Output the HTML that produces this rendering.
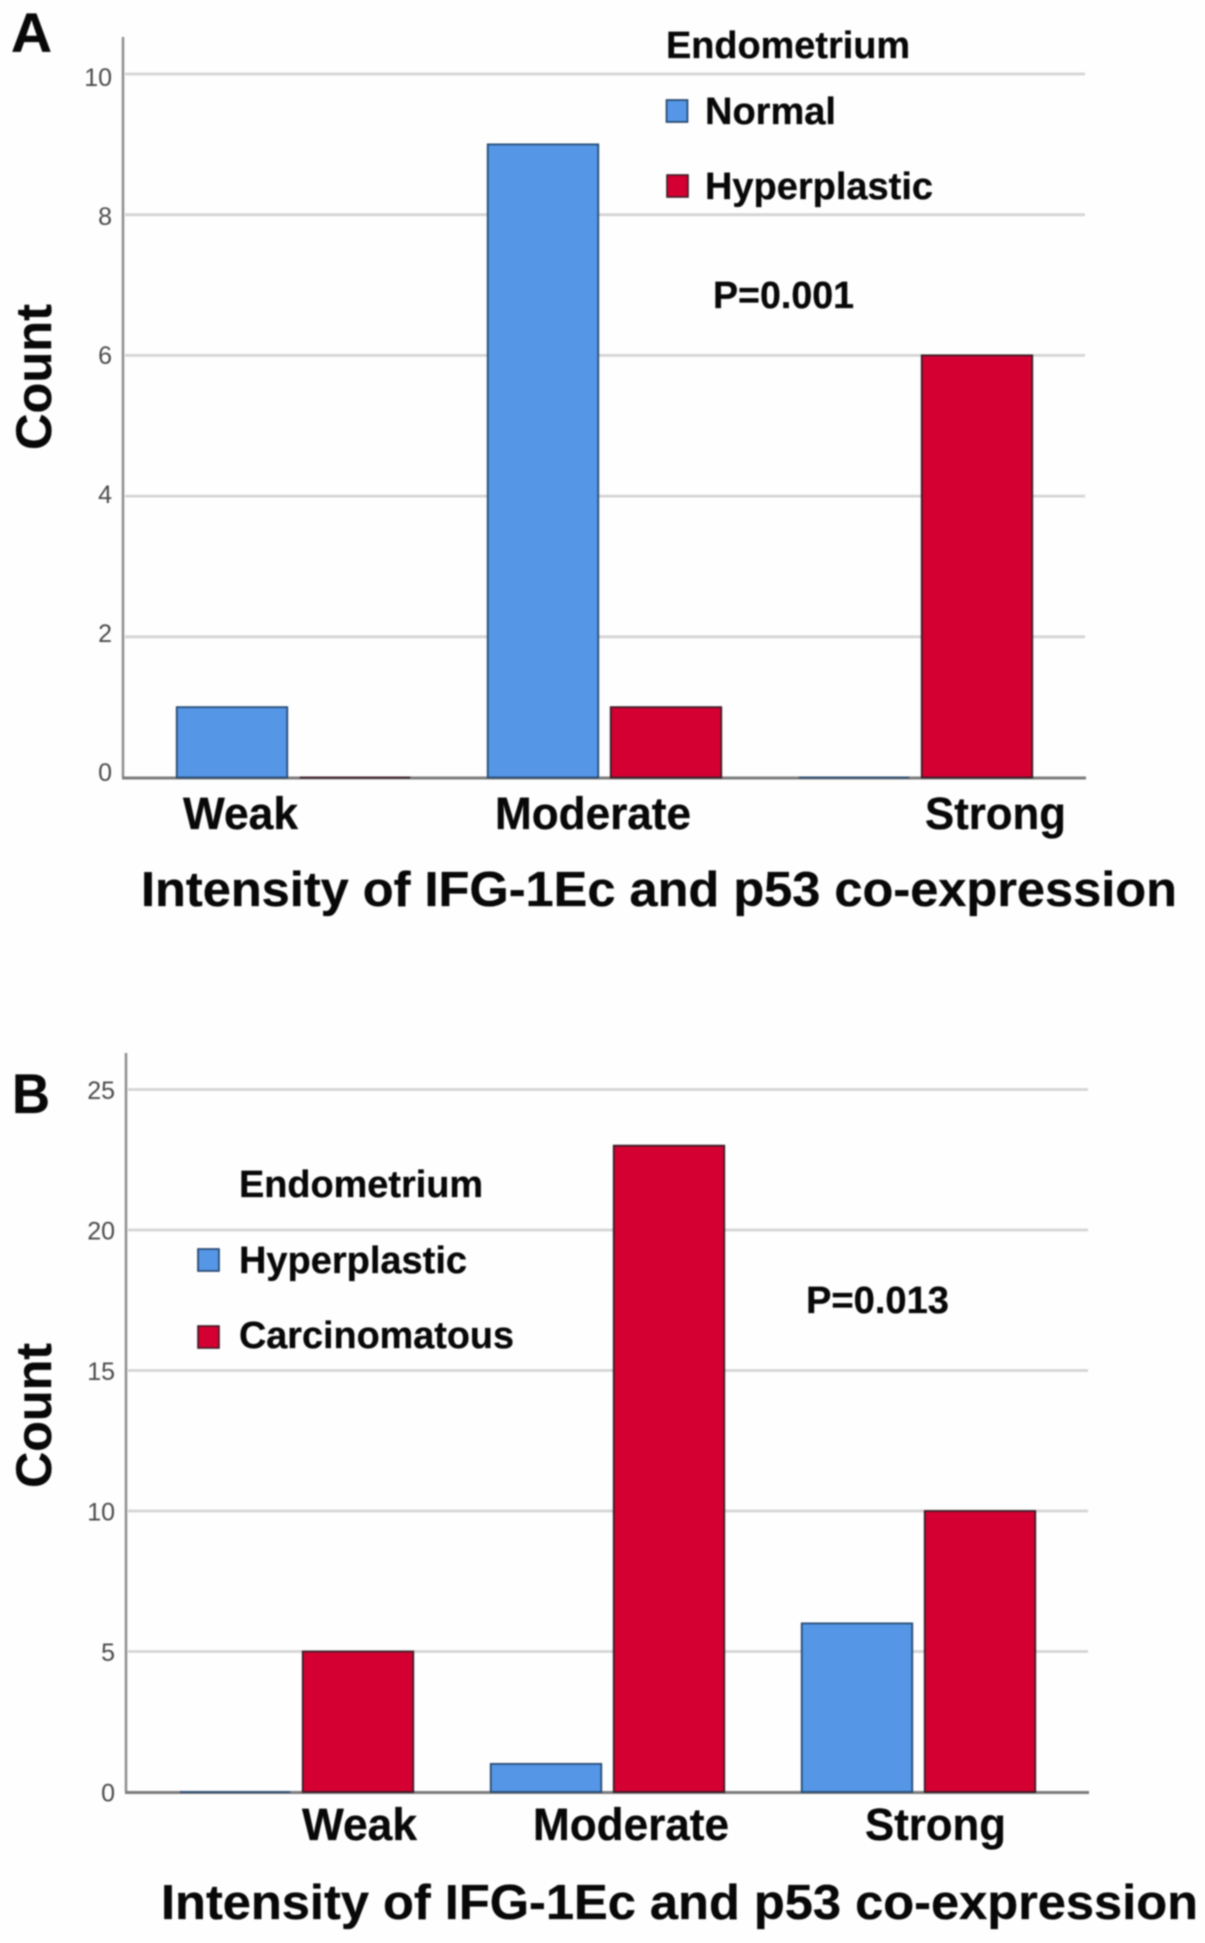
<!DOCTYPE html>
<html lang="en">
<head>
<meta charset="utf-8">
<title>Intensity of IFG-1Ec and p53 co-expression</title>
<style>
html,body{margin:0;padding:0;background:#fff;}
body{width:1205px;height:1943px;overflow:hidden;}
svg{display:block;filter:blur(0.7px);}
text{font-family:"Liberation Sans",Arial,sans-serif;}
.b{font-weight:700;fill:#080808;stroke:#080808;stroke-width:0.3px;}
.tick{font-size:25px;fill:#4a4a4a;text-anchor:end;}
</style>
</head>
<body>
<svg id="figure" width="1205" height="1943" viewBox="0 0 1205 1943" xmlns="http://www.w3.org/2000/svg">
  <rect x="0" y="0" width="1205" height="1943" fill="#fefefe"/>

  <g id="chart-a"></g>
  <g id="chart-b"></g>

  <text class="b" x="11" y="52" font-size="56" textLength="41" lengthAdjust="spacingAndGlyphs">A</text>
  <text class="b" transform="translate(51,450) rotate(-90)" font-size="50" textLength="146" lengthAdjust="spacingAndGlyphs">Count</text>
  <text class="b" x="141" y="906" font-size="49" textLength="1036" lengthAdjust="spacingAndGlyphs">Intensity of IFG-1Ec and p53 co-expression</text>
  <text class="b" x="666" y="58" font-size="38" textLength="244" lengthAdjust="spacingAndGlyphs">Endometrium</text>
  <rect x="666.5" y="100" width="21" height="22" fill="#5596e6" stroke="#1f3f66" stroke-width="1.6"/>
  <text class="b" x="705" y="124" font-size="38" textLength="131" lengthAdjust="spacingAndGlyphs">Normal</text>
  <rect x="667" y="175" width="21" height="22" fill="#d50032" stroke="#3a1a24" stroke-width="1.6"/>
  <text class="b" x="705" y="199" font-size="38" textLength="228" lengthAdjust="spacingAndGlyphs">Hyperplastic</text>
  <text class="b" x="713" y="308" font-size="38" textLength="141" lengthAdjust="spacingAndGlyphs">P=0.001</text>

  <text class="b" x="12" y="1113" font-size="56" textLength="38" lengthAdjust="spacingAndGlyphs">B</text>
  <text class="b" transform="translate(51,1488) rotate(-90)" font-size="50" textLength="145" lengthAdjust="spacingAndGlyphs">Count</text>
  <text class="b" x="161" y="1919" font-size="49" textLength="1037" lengthAdjust="spacingAndGlyphs">Intensity of IFG-1Ec and p53 co-expression</text>
  <text class="b" x="239" y="1197" font-size="38" textLength="244" lengthAdjust="spacingAndGlyphs">Endometrium</text>
  <rect x="198" y="1249" width="21" height="22" fill="#5596e6" stroke="#1f3f66" stroke-width="1.6"/>
  <text class="b" x="239" y="1273" font-size="38" textLength="228" lengthAdjust="spacingAndGlyphs">Hyperplastic</text>
  <rect x="198" y="1326" width="21" height="22" fill="#d50032" stroke="#3a1a24" stroke-width="1.6"/>
  <text class="b" x="239" y="1348" font-size="38" textLength="275" lengthAdjust="spacingAndGlyphs">Carcinomatous</text>
  <text class="b" x="806" y="1313" font-size="38" textLength="143" lengthAdjust="spacingAndGlyphs">P=0.013</text>
</svg>

<script>
// Chart A data
var categoriesA = ['Weak', 'Moderate', 'Strong'];
var normalValuesA = [1, 9, 0];
var hyperplasticValuesA = [0, 1, 6];
var tickValuesA = [0, 2, 4, 6, 8, 10];

// Chart B data
var categoriesB = ['Weak', 'Moderate', 'Strong'];
var hyperplasticValuesB = [0, 1, 6];
var carcinomatousValuesB = [5, 23, 10];
var tickValuesB = [0, 5, 10, 15, 20, 25];

var NS = 'http://www.w3.org/2000/svg';

function make(parent, tag, attrs) {
  var el = document.createElementNS(NS, tag);
  for (var k in attrs) { el.setAttribute(k, attrs[k]); }
  parent.appendChild(el);
  return el;
}

function drawChart(root, cfg) {
  var maxTick = cfg.ticks[cfg.ticks.length - 1];
  var unit = (cfg.y0 - cfg.yMaxTick) / maxTick;
  function yScale(v) { return cfg.y0 - v * unit; }
  function xBand(i) { return cfg.firstCenter + i * cfg.pitch; }

  // Gridlines and tick labels
  cfg.ticks.forEach(function (t) {
    if (t !== 0) {
      var grid = make(root, 'line', { x1: cfg.axisX + 2, x2: cfg.axisRight, y1: yScale(t), y2: yScale(t), stroke: '#d4d4d4', 'stroke-width': 2.8 });
      
      
    }
    var label = make(root, 'text', { 'class': 'tick', x: cfg.tickRight, y: yScale(t) + cfg.tickOffset + t * cfg.tickSlope });
    label.textContent = String(t);
    
    
  });

  // Y axis
  var yAxis = make(root, 'line', { x1: cfg.axisX, x2: cfg.axisX, y1: cfg.axisTop, y2: cfg.y0, stroke: '#8a8a8a', 'stroke-width': 2.4 });
  
  

  // X axis
  var xAxis = make(root, 'line', { x1: cfg.axisX - 1, x2: cfg.axisRight + 1, y1: cfg.y0 + 0.5, y2: cfg.y0 + 0.5, stroke: '#7c7c7c', 'stroke-width': 3 });
  
  

  // Bars
  cfg.series.forEach(function (s, si) {
    s.values.forEach(function (v, i) {
      var left = xBand(i) + (si === 0 ? -cfg.barOffset : cfg.barOffset) - cfg.barWidth / 2;
      var top = yScale(v);
      var bar = make(root, 'path', {
        d: 'M' + left + ' ' + cfg.y0 + 'V' + top + 'H' + (left + cfg.barWidth) + 'V' + cfg.y0 + 'Z',
        fill: s.fill, stroke: s.stroke, 'stroke-width': 1.8
      });
      
      
    });
  });

  // Category labels
  cfg.categories.forEach(function (c, i) {
    var label = make(root, 'text', {
      'class': 'b', x: cfg.labelLeft[i], y: cfg.labelBaseline,
      'font-size': 45, textLength: cfg.labelWidth[i], lengthAdjust: 'spacingAndGlyphs'
    });
    label.textContent = c;
    
    
  });
}

drawChart(document.getElementById('chart-a'), {
  categories: categoriesA,
  ticks: tickValuesA,
  series: [
    { name: 'normal', values: normalValuesA, fill: '#5596e6', stroke: '#254a72' },
    { name: 'hyperplastic', values: hyperplasticValuesA, fill: '#d50032', stroke: '#3a1a24' }
  ],
  y0: 777.5, yMaxTick: 74, axisX: 123, axisTop: 37, axisRight: 1085,
  tickRight: 112, tickOffset: 3.5, tickSlope: 0.85,
  firstCenter: 293.5, pitch: 311, barOffset: 61.5, barWidth: 110.5,
  labelLeft: [183, 495, 925], labelWidth: [115, 196, 141], labelBaseline: 829
});

drawChart(document.getElementById('chart-b'), {
  categories: categoriesB,
  ticks: tickValuesB,
  series: [
    { name: 'hyperplastic', values: hyperplasticValuesB, fill: '#5596e6', stroke: '#254a72' },
    { name: 'carcinomatous', values: carcinomatousValuesB, fill: '#d50032', stroke: '#3a1a24' }
  ],
  y0: 1792, yMaxTick: 1089.5, axisX: 126, axisTop: 1053, axisRight: 1088,
  tickRight: 115, tickOffset: 9.5, tickSlope: 0,
  firstCenter: 296.5, pitch: 311, barOffset: 61.5, barWidth: 110.5,
  labelLeft: [302, 533, 865], labelWidth: [115, 196, 141], labelBaseline: 1840
});
</script>
</body>
</html>
